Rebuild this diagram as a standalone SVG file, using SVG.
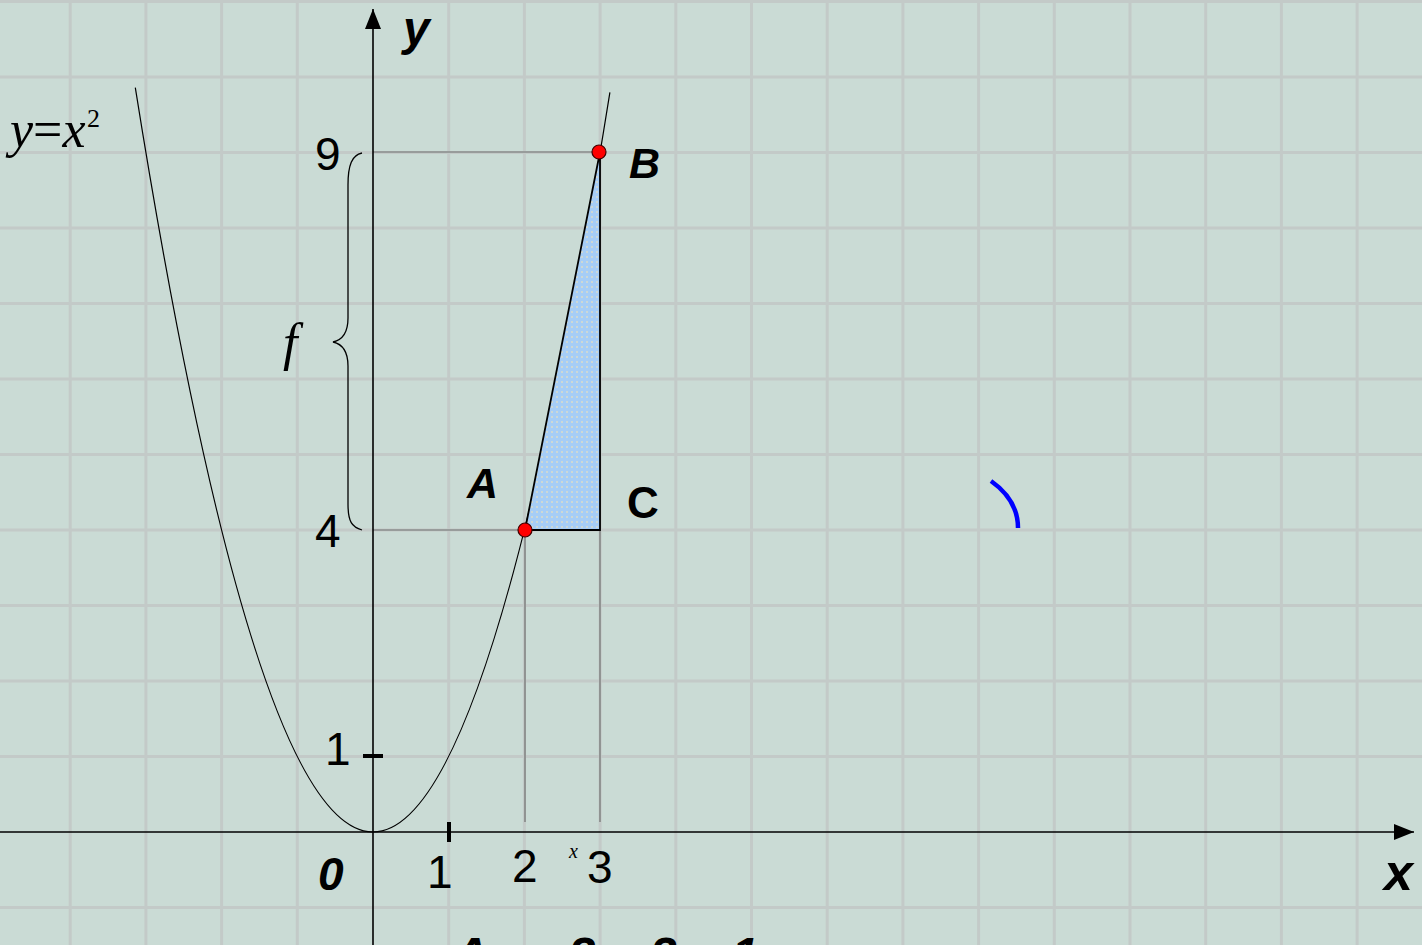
<svg xmlns="http://www.w3.org/2000/svg" width="1422" height="945" viewBox="0 0 1422 945">
<style>
.grid line{stroke:#c3cac8;stroke-width:3}
.axis{stroke:#000;stroke-width:1.6;fill:none}
.guide{stroke:#6f6f6f;stroke-width:1.2;fill:none}
.num{font-family:"Liberation Sans",Arial,sans-serif;font-size:46px;fill:#000}
.lbl{font-family:"Liberation Sans",Arial,sans-serif;font-weight:bold;font-style:italic;fill:#000}
.serif{font-family:"Liberation Serif","Times New Roman",serif;font-style:italic;fill:#000}
.pt{fill:#ff0000;stroke:#400000;stroke-width:1.2}
</style>
<defs>
<marker id="arr" viewBox="0 0 20 16" refX="20" refY="8" markerWidth="20" markerHeight="16" markerUnits="userSpaceOnUse" orient="auto">
<path d="M0,0 L20,8 L0,16 Z" fill="#000"/>
</marker>
<pattern id="dots" width="5" height="5" patternUnits="userSpaceOnUse">
<rect width="5" height="5" fill="#a6cdf6"/>
<rect x="1" y="1" width="2" height="2" fill="#cdd8d6"/>
</pattern>
</defs>
<rect width="1422" height="945" fill="#cadbd5"/>
<g id="grid" class="grid">
<line x1="70.2" y1="0" x2="70.2" y2="945"/>
<line x1="145.9" y1="0" x2="145.9" y2="945"/>
<line x1="221.6" y1="0" x2="221.6" y2="945"/>
<line x1="297.3" y1="0" x2="297.3" y2="945"/>
<line x1="448.7" y1="0" x2="448.7" y2="945"/>
<line x1="524.4" y1="0" x2="524.4" y2="945"/>
<line x1="600.1" y1="0" x2="600.1" y2="945"/>
<line x1="675.8" y1="0" x2="675.8" y2="945"/>
<line x1="751.5" y1="0" x2="751.5" y2="945"/>
<line x1="827.2" y1="0" x2="827.2" y2="945"/>
<line x1="902.9" y1="0" x2="902.9" y2="945"/>
<line x1="978.6" y1="0" x2="978.6" y2="945"/>
<line x1="1054.3" y1="0" x2="1054.3" y2="945"/>
<line x1="1130" y1="0" x2="1130" y2="945"/>
<line x1="1205.7" y1="0" x2="1205.7" y2="945"/>
<line x1="1281.4" y1="0" x2="1281.4" y2="945"/>
<line x1="1357.1" y1="0" x2="1357.1" y2="945"/>
<line x1="0" y1="1.5" x2="1422" y2="1.5"/>
<line x1="0" y1="77" x2="1422" y2="77"/>
<line x1="0" y1="152.5" x2="1422" y2="152.5"/>
<line x1="0" y1="228" x2="1422" y2="228"/>
<line x1="0" y1="303.5" x2="1422" y2="303.5"/>
<line x1="0" y1="379" x2="1422" y2="379"/>
<line x1="0" y1="454.5" x2="1422" y2="454.5"/>
<line x1="0" y1="530" x2="1422" y2="530"/>
<line x1="0" y1="605.5" x2="1422" y2="605.5"/>
<line x1="0" y1="681" x2="1422" y2="681"/>
<line x1="0" y1="756.5" x2="1422" y2="756.5"/>
<line x1="0" y1="907.5" x2="1422" y2="907.5"/>
</g>
<g id="connectors">
<line class="guide" x1="373" y1="152" x2="600" y2="152"/>
<line class="guide" x1="373" y1="530" x2="525" y2="530"/>
<line class="guide" x1="525" y1="530" x2="525" y2="822"/>
<line class="guide" x1="600" y1="152" x2="600" y2="822"/>
<line class="axis" x1="0" y1="832" x2="1414" y2="832" marker-end="url(#arr)"/>
<line class="axis" x1="373" y1="945" x2="373" y2="9" marker-end="url(#arr)"/>
<line x1="363" y1="756" x2="383" y2="756" stroke="#000" stroke-width="4"/>
<line x1="449" y1="822" x2="449" y2="842" stroke="#000" stroke-width="4"/>
<path d="M362,153 C352,155 348,165 348,185 L348,318 C348,333 342,340 333,342 C342,344 348,351 348,366 L348,504 C348,522 352,527 362,530" fill="none" stroke="#000" stroke-width="1.3"/>
<path d="M991,481 Q1018,500 1018,528" fill="none" stroke="#0000ff" stroke-width="4.5"/>
</g>
<g id="parabola">
<path d="M135.3,87.6 Q372.6,1574 609.9,92.3" fill="none" stroke="#000" stroke-width="1.2"/>
</g>
<g id="triangle">
<path d="M525,530 L600,152 L600,530 Z" fill="url(#dots)" stroke="#000" stroke-width="1.8" stroke-linejoin="miter"/>
</g>
<g id="pointA"><circle class="pt" cx="525" cy="530" r="7"/></g>
<g id="pointB"><circle class="pt" cx="599" cy="152" r="7"/></g>
<g id="labels">
<text class="lbl" x="403" y="45" font-size="48">y</text>
<text class="lbl" x="1384" y="890" font-size="52">x</text>
<text class="lbl" x="629" y="178" font-size="43">B</text>
<text class="lbl" x="467" y="498" font-size="43">A</text>
<text x="627" y="518" font-family="Liberation Sans,Arial,sans-serif" font-weight="bold" font-size="44">C</text>
<text class="lbl" x="318" y="890" font-size="46">0</text>
<text class="num" x="315" y="170">9</text>
<text class="num" x="315" y="547">4</text>
<text class="num" x="325" y="765">1</text>
<text class="num" x="427" y="888">1</text>
<text class="num" x="512" y="882">2</text>
<text class="num" x="587" y="883">3</text>
<text class="serif" x="569" y="858" font-size="20">x</text>
<text class="serif" x="10" y="147" font-size="52">y<tspan font-style="normal">=</tspan>x</text>
<text x="87" y="127" font-family="Liberation Serif,Times New Roman,serif" font-size="26">2</text>
<text class="serif" x="283" y="360" font-size="52">f</text>
<text class="lbl" x="455" y="971" font-size="48">Δx = 3 − 2 = 1</text>
</g>
</svg>
